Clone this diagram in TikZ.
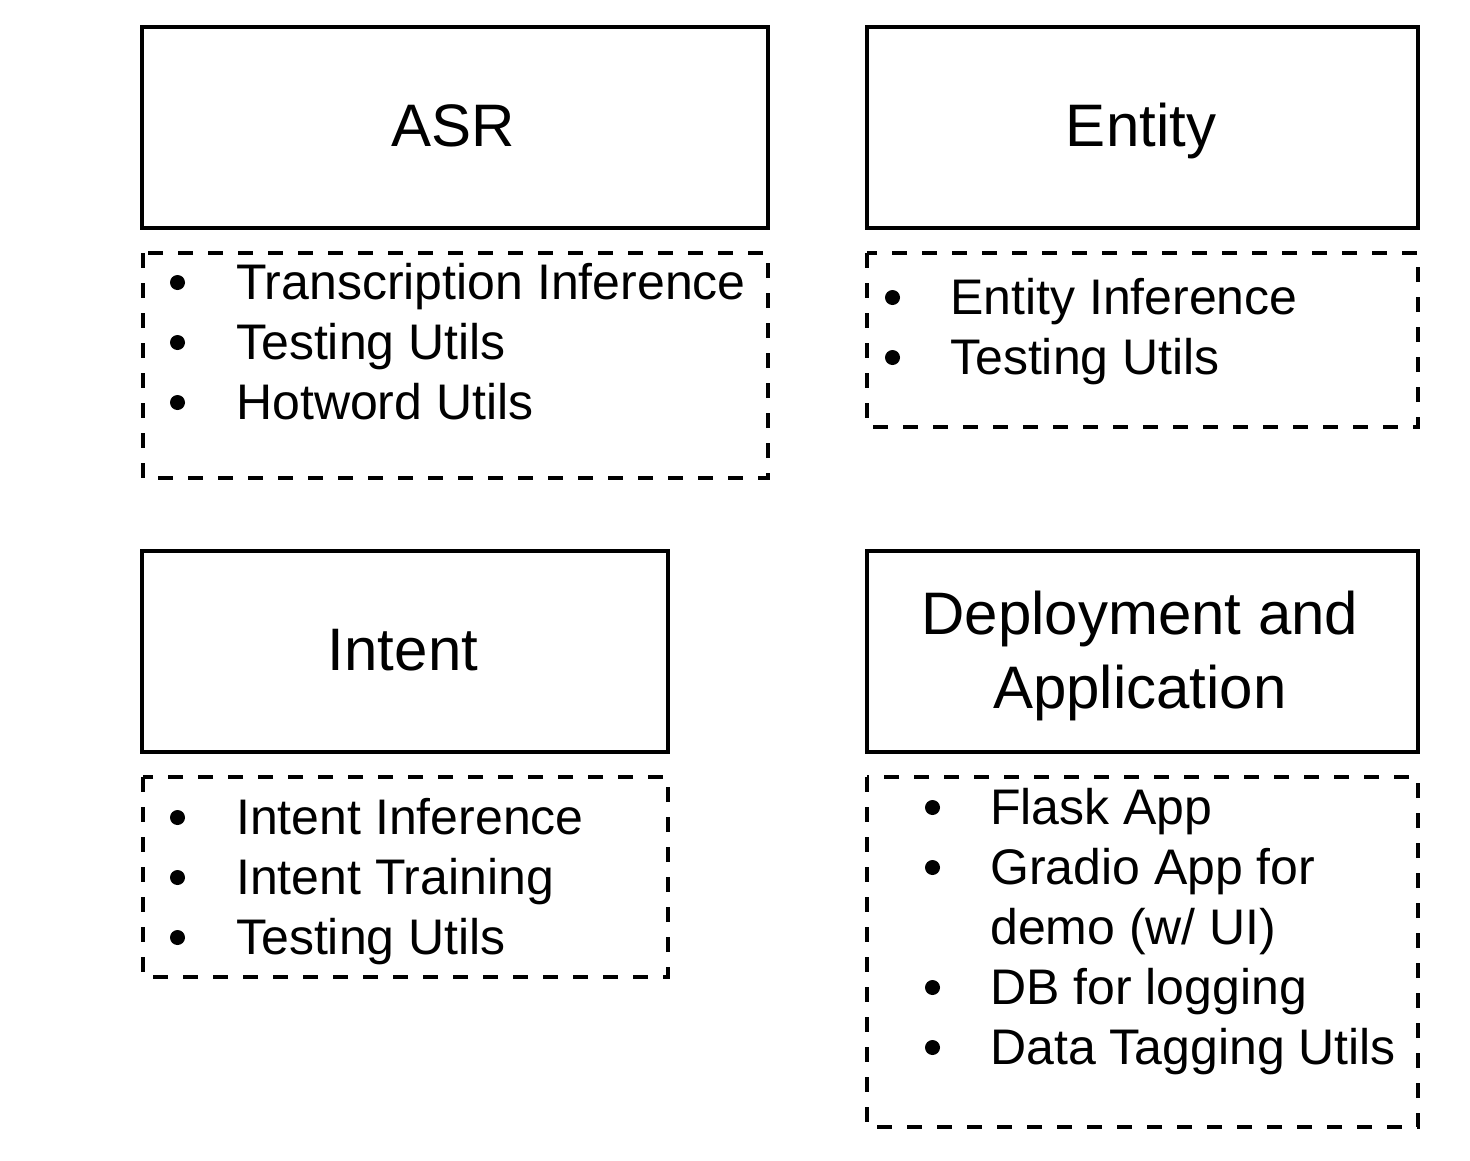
\documentclass[tikz,border=0pt]{standalone}
\usepackage{fontspec}
\setmainfont{Liberation Sans}
\begin{document}
\begin{tikzpicture}[x=1pt,y=-1pt,
  solidbox/.style={draw=black,line width=4pt},
  dashbox/.style={draw=black,line width=4pt,dash pattern=on 15pt off 15pt},
  title/.style={font=\fontsize{60}{74}\selectfont,align=center,inner sep=0pt},
  item/.style={font=\fontsize{50}{60}\selectfont,anchor=base west,inner sep=0pt},
  bul/.style={circle,fill=black,inner sep=0pt,minimum size=15pt}]
\useasboundingbox (0,0) rectangle (1470,1160);
% ASR
\draw[solidbox] (142,27) rectangle (768,228);
\node[title,anchor=base] (asr) at (453,146) {ASR};
\draw[dashbox] (143,253) rectangle (768,478);
\node[bul] (ab1) at (177.5,282.5) {};
\node[item] (a1) at (236,299.5) {Transcription Inference};
\node[bul] (ab2) at (177.5,342.5) {};
\node[item] (a2) at (236,359.5) {Testing Utils};
\node[bul] (ab3) at (177.5,402.5) {};
\node[item] (a3) at (236,419.5) {Hotword Utils};
% Entity
\draw[solidbox] (867,27) rectangle (1418,228);
\node[title,anchor=base] (ent) at (1141,146) {Entity};
\draw[dashbox] (867,253) rectangle (1418,427);
\node[bul] (eb1) at (892.5,297.5) {};
\node[item] (e1) at (950,314.5) {Entity Inference};
\node[bul] (eb2) at (892.5,357.5) {};
\node[item] (e2) at (950,374.5) {Testing Utils};
% Intent
\draw[solidbox] (142,551) rectangle (668,752);
\node[title,anchor=base] (int) at (403,670) {Intent};
\draw[dashbox] (143,777) rectangle (668,977);
\node[bul] (ib1) at (177.5,817.5) {};
\node[item] (i1) at (236,834.5) {Intent Inference};
\node[bul] (ib2) at (177.5,877.5) {};
\node[item] (i2) at (236,894.5) {Intent Training};
\node[bul] (ib3) at (177.5,937.5) {};
\node[item] (i3) at (236,954.5) {Testing Utils};
% Deployment
\draw[solidbox] (867,551) rectangle (1418,752);
\node[title] (dep) at (1140,656) {Deployment and\\Application};
\draw[dashbox] (867,777) rectangle (1418,1127);
\node[bul] (db1) at (932.5,807.5) {};
\node[item] (d1) at (990,824.5) {Flask App};
\node[bul] (db2) at (932.5,867.5) {};
\node[item] (d2) at (990,884.5) {Gradio App for};
\node[item] (d2b) at (990,944.5) {demo (w/ UI)};
\node[bul] (db3) at (932.5,987.5) {};
\node[item] (d3) at (990,1004.5) {DB for logging};
\node[bul] (db4) at (932.5,1047.5) {};
\node[item] (d4) at (990,1064.5) {Data Tagging Utils};
\end{tikzpicture}
\end{document}
